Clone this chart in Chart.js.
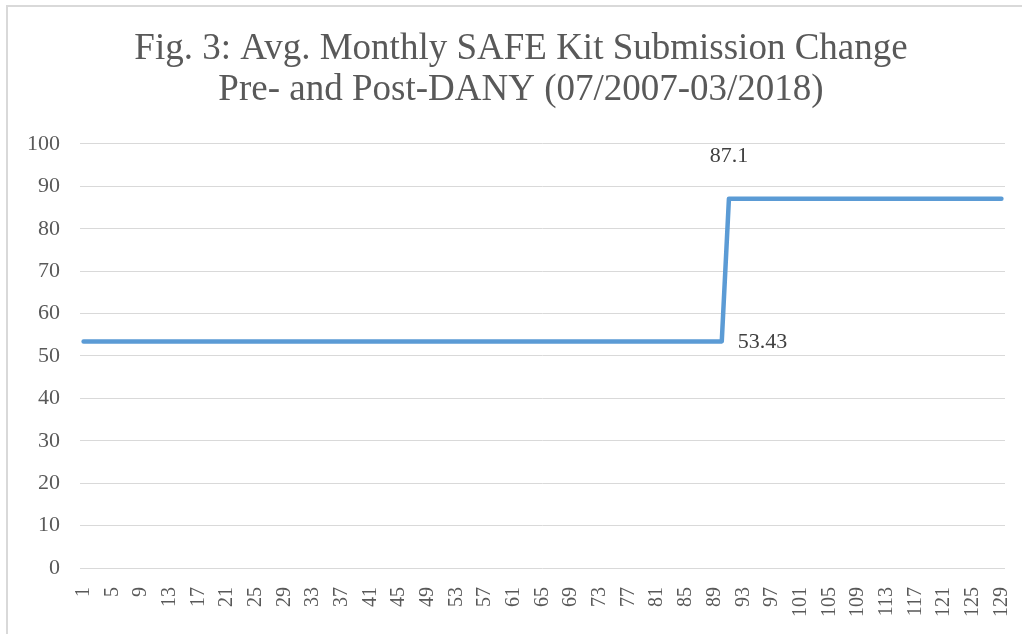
<!DOCTYPE html>
<html>
<head>
<meta charset="utf-8">
<script src="https://cdn.jsdelivr.net/npm/chart.js@4/dist/chart.umd.min.js"></script>
<style>
html,body{margin:0;padding:0;background:#fff;}
#wrap{width:1022px;height:634px;position:relative;}
</style>
</head>
<body>
<div id="wrap"><canvas id="c" width="1022" height="634"></canvas></div>
<script>
// Data
const monthIndex = Array.from({length:129}, (_, i) => String(i + 1));
const preValue = 53.43;
const postValue = 87.1;
const preMonths = 90;
const postMonths = 39;
const seriesValues = [].concat(Array(preMonths).fill(preValue), Array(postMonths).fill(postValue));
const labeledPoints = [89, 90];
const labeledTexts = ['53.43', '87.1'];
const titleLines = ['Fig. 3: Avg. Monthly SAFE Kit Submission Change', 'Pre- and Post-DANY (07/2007-03/2018)'];

const SERIF = '"Liberation Serif", "Times New Roman", serif';

const frame = {
  id: 'frame',
  beforeDraw(chart) {
    const ctx = chart.ctx;
    ctx.save();
    ctx.fillStyle = '#fff';
    ctx.fillRect(0, 0, chart.width, chart.height);
    ctx.strokeStyle = '#d9d9d9';
    ctx.lineWidth = 2;
    ctx.beginPath();
    ctx.moveTo(7, chart.height + 2);
    ctx.lineTo(7, 6);
    ctx.lineTo(chart.width + 2, 6);
    ctx.stroke();
    ctx.restore();
  }
};

// shift the title box so it is centred like the original
const titleShift = {
  id: 'titleShift',
  afterLayout(chart) {
    const t = chart.titleBlock;
    if (t) { t.left += 37; t.width = t.right - t.left; }
  }
};

const dataLabels = {
  id: 'dataLabels',
  afterDatasetsDraw(chart) {
    const ctx = chart.ctx;
    const meta = chart.getDatasetMeta(0);
    ctx.save();
    ctx.font = '22px ' + SERIF;
    ctx.fillStyle = '#404040';
    ctx.textBaseline = 'middle';
    const p0 = meta.data[labeledPoints[0]];
    ctx.textAlign = 'left';
    ctx.fillText(labeledTexts[0], p0.x + 16, p0.y + 1);
    const p1 = meta.data[labeledPoints[1]];
    ctx.textAlign = 'center';
    ctx.fillText(labeledTexts[1], p1.x, p1.y - 42);
    ctx.restore();
  }
};

new Chart(document.getElementById('c'), {
  type: 'line',
  data: {
    labels: monthIndex,
    datasets: [{
      data: seriesValues,
      borderColor: '#5B9BD5',
      borderWidth: 4.5,
      borderCapStyle: 'round',
      borderJoinStyle: 'round',
      pointRadius: 0,
      tension: 0,
      fill: false
    }]
  },
  options: {
    responsive: false,
    animation: false,
    devicePixelRatio: 1,
    layout: { padding: { left: 0, right: 17, top: 0, bottom: 0 } },
    plugins: {
      legend: { display: false },
      tooltip: { enabled: false },
      title: {
        display: true,
        text: titleLines,
        color: '#595959',
        font: { family: SERIF, size: 37, weight: 'normal', lineHeight: 1.127 },
        padding: { top: 28, bottom: 32.6 }
      }
    },
    scales: {
      x: {
        type: 'category',
        offset: true,
        grid: { display: false },
        border: { display: false },
        afterFit(scale) { scale.height = 66; scale.paddingLeft = 0; scale.paddingRight = 0; },
        ticks: {
          autoSkip: false,
          maxRotation: 90,
          minRotation: 90,
          padding: 11,
          color: '#595959',
          font: { family: SERIF, size: 20 },
          callback(value, index) { return index % 4 === 0 ? this.getLabelForValue(value) : ''; }
        }
      },
      y: {
        min: 0,
        max: 100,
        grid: { color: '#d9d9d9', lineWidth: 1, drawTicks: false },
        border: { display: false },
        afterFit(scale) { scale.width = 80; scale.paddingTop = 0; scale.paddingBottom = 0; },
        ticks: {
          stepSize: 10,
          padding: 20,
          color: '#595959',
          font: { family: SERIF, size: 22 }
        }
      }
    }
  },
  plugins: [frame, titleShift, dataLabels]
});
</script>
</body>
</html>
